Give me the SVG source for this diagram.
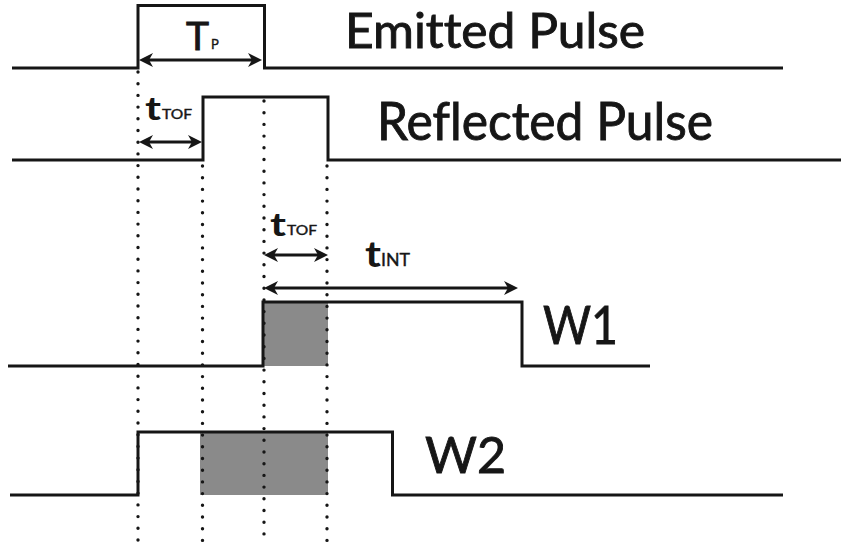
<svg xmlns="http://www.w3.org/2000/svg" width="841" height="552" viewBox="0 0 841 552">
<style>
.sig{fill:none;stroke:#161616;stroke-width:3;stroke-linejoin:miter}
.dot{fill:none;stroke:#161616;stroke-width:3.4;stroke-linecap:round;stroke-dasharray:0 11.7}
.arr{fill:none;stroke:#161616;stroke-width:3;marker-start:url(#ah);marker-end:url(#ah)}
.shade{fill:#8a8a8a}
.lbl{font-family:Lato,"Open Sans","Liberation Sans",sans-serif;fill:#161616;stroke:#161616;stroke-width:0.9;font-variant-ligatures:none}
.sub{font-family:Lato,"Open Sans","Liberation Sans",sans-serif;fill:#161616;stroke:#161616;stroke-width:0.4}
.t{font-family:Lato,"Open Sans","Liberation Sans",sans-serif;font-weight:bold;fill:#161616}
</style>
<defs>
<marker id="ah" viewBox="0 0 14 14" refX="10" refY="7" markerWidth="14" markerHeight="14" markerUnits="userSpaceOnUse" orient="auto-start-reverse">
<path d="M0,0 L14,7 L0,14 L4,7 z" fill="#161616"/>
</marker>
</defs>
<rect width="841" height="552" fill="#ffffff"/>
<g id="shading">
<rect class="shade" x="264" y="302" width="64" height="64"/>
<rect class="shade" x="200" y="432" width="128" height="63"/>
</g>
<g id="guides">
<line class="dot" x1="138" y1="72" x2="138" y2="543"/>
<line class="dot" x1="202.5" y1="166" x2="202.5" y2="543"/>
<line class="dot" x1="264" y1="101" x2="264" y2="543"/>
<line class="dot" x1="327" y1="166" x2="327" y2="541"/>
</g>
<g id="emitted">
<polyline class="sig" points="12,68 138,68 138,5.5 264.5,5.5 264.5,68 783,68"/>
<text class="lbl" x="345" y="47.5" font-size="47.5" textLength="300" lengthAdjust="spacingAndGlyphs">Emitted Pulse</text>
</g>
<g id="reflected">
<polyline class="sig" points="12,160 203,160 203,97 328,97 328,160 841,160"/>
<text class="lbl" x="377" y="140" font-size="52" textLength="336" lengthAdjust="spacingAndGlyphs">Reflected Pulse</text>
</g>
<g id="w1">
<polyline class="sig" points="8,366 263,366 263,302 522,302 522,366 650,366"/>
<text class="lbl" x="543" y="344" font-size="52" textLength="75" lengthAdjust="spacingAndGlyphs">W1</text>
</g>
<g id="w2">
<polyline class="sig" points="10,495 138,495 138,432 392.5,432 392.5,495 783,495"/>
<text class="lbl" x="425" y="473" font-size="51" textLength="81" lengthAdjust="spacingAndGlyphs">W2</text>
</g>
<g id="connectors">
<line class="arr" x1="143" y1="60" x2="258" y2="60"/>
<line class="arr" x1="143" y1="142" x2="198" y2="142"/>
<line class="arr" x1="268" y1="255" x2="324" y2="255"/>
<line class="arr" x1="268" y1="288" x2="514" y2="288"/>
</g>
<g id="labels">
<text class="lbl" x="186" y="50" font-size="39">T</text>
<text class="sub" x="211" y="49" font-size="13">P</text>
<text class="t" x="145" y="119.5" font-size="33" textLength="16" lengthAdjust="spacingAndGlyphs">t</text>
<text class="sub" x="162" y="119" font-size="13.5" textLength="30" lengthAdjust="spacingAndGlyphs">TOF</text>
<text class="t" x="270" y="235.5" font-size="33" textLength="16" lengthAdjust="spacingAndGlyphs">t</text>
<text class="sub" x="287" y="235" font-size="13.5" textLength="30" lengthAdjust="spacingAndGlyphs">TOF</text>
<text class="t" x="365" y="266.5" font-size="37" textLength="16" lengthAdjust="spacingAndGlyphs">t</text>
<text class="sub" x="381" y="266" font-size="17" textLength="29" lengthAdjust="spacingAndGlyphs">INT</text>
</g>
</svg>
